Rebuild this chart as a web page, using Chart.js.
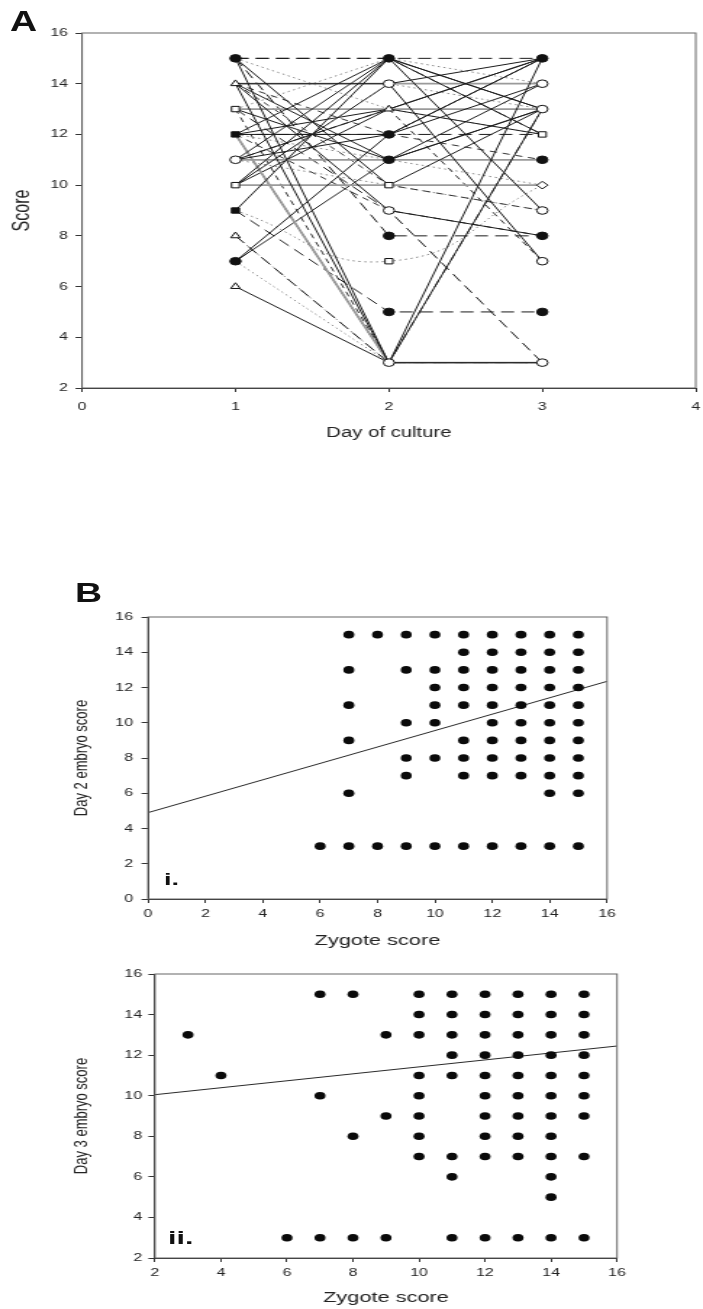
<!DOCTYPE html>
<html><head><meta charset="utf-8">
<script src="https://cdn.jsdelivr.net/npm/chart.js@4.4.0/dist/chart.umd.min.js"></script>
<style>
html,body{margin:0;padding:0;background:#fff;}
body{width:703px;height:1309px;position:relative;overflow:hidden;font-family:"Liberation Sans",Arial,sans-serif;}
canvas{position:absolute;left:0;}
.lbl{position:absolute;font-weight:bold;line-height:1;transform-origin:0 0;color:#111;font-family:"Liberation Sans",Arial,sans-serif;}
</style></head><body>
<canvas id="cA" width="485" height="460" style="top:0px;width:703px;height:460px"></canvas>
<canvas id="cB1" width="485" height="395" style="top:560px;width:703px;height:395px"></canvas>
<canvas id="cB2" width="485" height="354" style="top:955px;width:703px;height:354px"></canvas>
<div class="lbl" style="left:10px;top:6px;font-size:30px;transform:scaleX(1.25)">A</div>
<div class="lbl" style="left:75px;top:579px;font-size:28px;transform:scaleX(1.34)">B</div>
<div class="lbl" style="left:164px;top:871px;font-size:17px;transform:scaleX(1.6)">i.</div>
<div class="lbl" style="left:168px;top:1228px;font-size:19px;transform:scaleX(1.6)">ii.</div>
<script>
// ---------- Panel A: score of each embryo on days 1, 2, 3 ----------
const cultureDays = [1, 2, 3];
const day1Score = [15,15,14,14,6,7,12,11,10,12, 13,14,11,9,12,15,11,14,10,14, 13,11,10,12,15,12,9,15,13,12, 8,14,11,12,14,9,7,8,11,10, 13,12,15,13,12,10,7];
const day2Score = [15,3,3,14,3,12,12,15,14,13, 11,11,13,15,15,10,12,9,15,14, 13,11,10,3,15,12,5,8,9,3, 3,10,13,9,12,7,3,3,10,14, 15,11,13,3,3,13,11];
const day3Score = [15,3,13,7,15,15,14,13,15,15, 13,14,12,13,9,13,15,8,12,14, 13,11,10,3,12,12,5,8,3,13, 3,9,7,8,11,10,3,3,9,13, 14,10,12,3,3,15,13];
const dayTicks = [0, 1, 2, 3, 4];
const scoreTicksA = [2, 4, 6, 8, 10, 12, 14, 16];

// ---------- Panel B i: zygote score vs day 2 embryo score ----------
const zygoteScoreI = [
  7,8,9,10,11,12,13,14,15,
  11,12,13,14,15,
  7,9,10,11,12,13,14,15,
  10,11,12,13,14,15,
  7,10,11,12,13,14,15,
  9,10,12,13,14,15,
  7,11,12,13,14,15,
  9,10,11,12,13,14,15,
  9,11,12,13,14,15,
  7,14,15,
  6,7,8,9,10,11,12,13,14,15];
const day2EmbryoScore = [
  15,15,15,15,15,15,15,15,15,
  14,14,14,14,14,
  13,13,13,13,13,13,13,13,
  12,12,12,12,12,12,
  11,11,11,11,11,11,11,
  10,10,10,10,10,10,
  9,9,9,9,9,9,
  8,8,8,8,8,8,8,
  7,7,7,7,7,7,
  6,6,6,
  3,3,3,3,3,3,3,3,3,3];
const fitIx = [0, 16];
const fitIy = [4.9, 12.35];
const zygoteTicksI = [0, 2, 4, 6, 8, 10, 12, 14, 16];
const scoreTicksI = [0, 2, 4, 6, 8, 10, 12, 14, 16];

// ---------- Panel B ii: zygote score vs day 3 embryo score ----------
const zygoteScoreII = [
  7,8,10,11,12,13,14,15,
  10,11,12,13,14,15,
  3,9,10,11,12,13,14,15,
  11,12,13,14,15,
  4,10,11,12,13,14,15,
  7,10,12,13,14,15,
  9,10,12,13,14,15,
  8,10,12,13,14,
  10,11,12,13,14,15,
  11,14,
  14,
  6,7,8,9,11,12,13,14,15];
const day3EmbryoScore = [
  15,15,15,15,15,15,15,15,
  14,14,14,14,14,14,
  13,13,13,13,13,13,13,13,
  12,12,12,12,12,
  11,11,11,11,11,11,11,
  10,10,10,10,10,10,
  9,9,9,9,9,9,
  8,8,8,8,8,
  7,7,7,7,7,7,
  6,6,
  5,
  3,3,3,3,3,3,3,3,3];
const fitIIx = [2, 16];
const fitIIy = [10.05, 12.45];
const zygoteTicksII = [2, 4, 6, 8, 10, 12, 14, 16];
const scoreTicksII = [2, 4, 6, 8, 10, 12, 14, 16];

// ---------- styles (kept apart from the data) ----------
const trajectoryLine = ['longdash','solid','solid','solid','solid','solid','solid','solid','solid','solid',
  'solid','solid','solid','solid','solid','solid','solid','solid','solid','gray',
  'gray','gray','gray','gray','longdash','longdash','longdash','longdash','longdash','dashdot',
  'longdash','dash','dash','dash','dash','dotcurve','dotted','dotted','dotted','dotted',
  'dotted','dotted','dotted','dash','dash','solid','solid'];
const lineStyles = {
  solid:    {color:'#1a1a1a', width:1,   dash:[],            tension:0},
  gray:     {color:'#9a9a9a', width:1.8, dash:[],            tension:0},
  longdash: {color:'#1a1a1a', width:1,   dash:[9,5],         tension:0},
  dash:     {color:'#333333', width:1,   dash:[5,4],         tension:0},
  dashdot:  {color:'#333333', width:1,   dash:[7,3,1.5,3],   tension:0},
  dotted:   {color:'#8a8a8a', width:1,   dash:[1.5,2.5],     tension:0},
  dotcurve: {color:'#8a8a8a', width:1,   dash:[1.5,2.5],     tension:0.5}
};
const markerKinds = {
  '1-15':'fc','1-14':'ot','1-13':'os','1-12':'fs','1-11':'oc','1-10':'os','1-9':'fs','1-8':'ot','1-7':'fc','1-6':'ot',
  '2-15':'fc','2-14':'oc','2-13':'ot','2-12':'fc','2-11':'fc','2-10':'os','2-9':'oc','2-8':'fc','2-7':'os','2-5':'fc','2-3':'oc',
  '3-15':'fc','3-14':'oc','3-13':'oc','3-12':'os','3-11':'fc','3-10':'od','3-9':'oc','3-8':'fc','3-7':'oc','3-5':'fc','3-3':'oc'
};
const kindShape = {fc:'circle', oc:'circle', ot:'triangle', os:'rect', fs:'rect', od:'rectRot'};
const kindFill  = {fc:'#111', oc:'#fff', ot:'#fff', os:'#fff', fs:'#111', od:'#fff'};

const FONT = '"Liberation Sans", Arial, sans-serif';
const INK = '#222';

const boxPlugin = {
  id: 'box',
  afterDraw(chart) {
    const {ctx, chartArea: a} = chart;
    ctx.save();
    ctx.strokeStyle = '#666';
    ctx.lineWidth = 1;
    ctx.strokeRect(a.left, a.top, a.right - a.left, a.bottom - a.top);
    ctx.restore();
  }
};

function makeAxis(o) {
  return {
    type: 'linear',
    min: o.ticks[0], max: o.ticks[o.ticks.length - 1],
    afterBuildTicks: s => { s.ticks = o.ticks.map(v => ({value: v})); },
    afterFit: s => {
      if (o.horizontal) s.height = o.size; else s.width = o.size;
      s.paddingLeft = 0; s.paddingRight = 0; s.paddingTop = 0; s.paddingBottom = 0;
    },
    grid: {display: true, drawOnChartArea: false, drawTicks: true, tickLength: o.tickLength, color: '#333', lineWidth: 1},
    border: {display: true, color: '#222', width: 1},
    ticks: {font: {family: FONT, size: 11}, color: INK, padding: o.tickPad, maxRotation: 0, autoSkip: false},
    title: {display: true, text: o.title, color: INK, font: {family: FONT, size: o.titleSize},
            padding: o.horizontal ? {top: 0, bottom: o.titlePad} : {top: o.titlePad, bottom: 0}}
  };
}

function baseOptions(o) {
  return {
    responsive: false,
    animation: false,
    devicePixelRatio: 1,
    layout: {padding: o.padding},
    plugins: {legend: {display: false}, tooltip: {enabled: false}},
    scales: {x: makeAxis(o.x), y: makeAxis(o.y)}
  };
}

// ---------- Chart A ----------
(function () {
  const datasets = [];
  const seen = {};
  const markerPts = [];
  const series = [day1Score, day2Score, day3Score];
  series.forEach((arr, di) => {
    arr.forEach(v => {
      const key = cultureDays[di] + '-' + v;
      if (!seen[key]) { seen[key] = true; markerPts.push({x: cultureDays[di], y: v}); }
    });
  });
  const kindOf = p => markerKinds[p.x + '-' + p.y] || 'oc';
  datasets.push({
    data: markerPts,
    showLine: false,
    pointRadius: 3.8,
    pointStyle: ctx => kindShape[kindOf(ctx.raw)],
    pointBackgroundColor: ctx => kindFill[kindOf(ctx.raw)],
    pointBorderColor: '#111',
    pointBorderWidth: 1
  });
  day1Score.forEach((v, i) => {
    const st = lineStyles[trajectoryLine[i]];
    datasets.push({
      data: [{x: cultureDays[0], y: day1Score[i]}, {x: cultureDays[1], y: day2Score[i]}, {x: cultureDays[2], y: day3Score[i]}],
      showLine: true,
      pointRadius: 0,
      borderColor: st.color,
      borderWidth: st.width,
      borderDash: st.dash,
      tension: st.tension
    });
  });
  new Chart(document.getElementById('cA'), {
    type: 'scatter',
    data: {datasets},
    options: baseOptions({
      padding: {top: 33, right: 3.5, bottom: 0, left: 0},
      x: {ticks: dayTicks, horizontal: true, size: 72, tickLength: 4, tickPad: 8, title: 'Day of culture', titleSize: 14, titlePad: 18.6},
      y: {ticks: scoreTicksA, horizontal: false, size: 56.6, tickLength: 4.5, tickPad: 5.2, title: 'Score', titleSize: 16, titlePad: 5.6}
    }),
    plugins: [boxPlugin]
  });
})();

// ---------- Chart B i / B ii ----------
function scatterPanel(id, xs, ys, fx, fy, o) {
  const pts = xs.map((x, i) => ({x, y: ys[i]}));
  const fit = fx.map((x, i) => ({x, y: fy[i]}));
  new Chart(document.getElementById(id), {
    type: 'scatter',
    data: {datasets: [
      {data: pts, pointRadius: 3.8, pointBackgroundColor: '#0a0a0a', pointBorderColor: '#0a0a0a', pointBorderWidth: 0, showLine: false},
      {data: fit, showLine: true, pointRadius: 0, borderColor: '#2a2a2a', borderWidth: 1}
    ]},
    options: baseOptions(o),
    plugins: [boxPlugin]
  });
}

scatterPanel('cB1', zygoteScoreI, day2EmbryoScore, fitIx, fitIy, {
  padding: {top: 57, right: 66.2, bottom: 0, left: 40},
  x: {ticks: zygoteTicksI, horizontal: true, size: 56, tickLength: 4, tickPad: 4.4, title: 'Zygote score', titleSize: 15, titlePad: 5},
  y: {ticks: scoreTicksI, horizontal: false, size: 62.1, tickLength: 4.5, tickPad: 5.8, title: 'Day 2 embryo score', titleSize: 13, titlePad: 8.8}
});

scatterPanel('cB2', zygoteScoreII, day3EmbryoScore, fitIIx, fitIIy, {
  padding: {top: 19, right: 59.3, bottom: 0, left: 40},
  x: {ticks: zygoteTicksII, horizontal: true, size: 51, tickLength: 4, tickPad: 4.4, title: 'Zygote score', titleSize: 15, titlePad: 2},
  y: {ticks: scoreTicksII, horizontal: false, size: 66.9, tickLength: 4.5, tickPad: 4.4, title: 'Day 3 embryo score', titleSize: 13, titlePad: 8.8}
});
</script>
</body></html>
